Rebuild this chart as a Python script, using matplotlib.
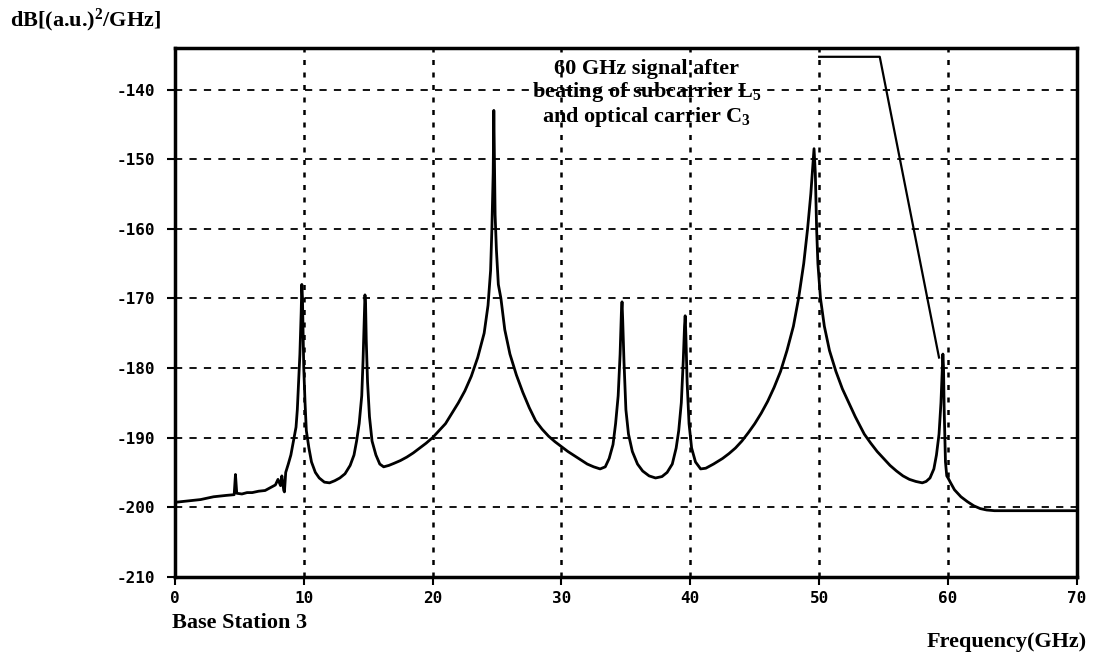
import matplotlib
matplotlib.use("Agg")
import matplotlib.pyplot as plt

plt.rcParams['mathtext.fontset'] = 'custom'
plt.rcParams['mathtext.rm'] = 'Liberation Serif:bold'
plt.rcParams['mathtext.it'] = 'Liberation Serif:bold'
plt.rcParams['mathtext.bf'] = 'Liberation Serif:bold'

# measured spectrum at base station 3 (GHz, dB)
freq = [0, 0.5, 1, 1.5, 2, 2.5, 3, 3.5, 4, 4.6, 4.7, 4.8, 5.2, 5.6, 6, 6.5, 7, 7.4, 7.8,
        8.0, 8.2, 8.3, 8.45, 8.5, 8.6, 8.8, 9.0, 9.2, 9.4, 9.5, 9.6, 9.7, 9.8, 9.85, 9.9, 9.95,
        10.0, 10.1, 10.2, 10.4, 10.6, 10.9, 11.2, 11.6, 12.0, 12.4, 12.8, 13.2, 13.6, 13.9,
        14.1, 14.3, 14.5, 14.6, 14.7, 14.75, 14.8, 14.85, 14.95, 15.1, 15.3, 15.6, 15.9, 16.2,
        16.6, 17, 17.5, 18, 18.5, 19, 19.5, 20, 20.5, 21, 21.5, 22, 22.5, 23, 23.5, 24, 24.3,
        24.5, 24.6, 24.7, 24.75, 24.8, 24.85, 24.95, 25.1, 25.3, 25.6, 26, 26.5, 27, 27.5, 28,
        28.5, 29, 29.5, 30, 30.5, 31, 31.5, 32, 32.5, 33, 33.4, 33.7, 34.0, 34.2, 34.4, 34.55,
        34.65, 34.7, 34.75, 34.85, 35.0, 35.2, 35.5, 35.9, 36.3, 36.8, 37.3, 37.8, 38.2, 38.6,
        38.9, 39.1, 39.3, 39.45, 39.55, 39.6, 39.65, 39.75, 39.9, 40.1, 40.4, 40.8, 41.2, 41.8,
        42.5, 43, 43.5, 44, 44.5, 45, 45.5, 46, 46.5, 47, 47.5, 48, 48.4, 48.8, 49.1, 49.35,
        49.5, 49.6, 49.7, 49.8, 49.9, 50.1, 50.4, 50.8, 51.3, 51.8, 52.3, 52.8, 53.5, 54, 54.5,
        55, 55.5, 56, 56.5, 57, 57.5, 58, 58.3, 58.6, 58.9, 59.1, 59.3, 59.45, 59.55, 59.6,
        59.65, 59.7, 59.8, 59.9, 60.0, 60.2, 60.5, 61, 61.5, 62, 62.5, 63, 63.6, 70]
level = [-199.3, -199.2, -199.1, -199.0, -198.9, -198.7, -198.5, -198.4, -198.3, -198.2, -195.3,
         -198.0, -198.1, -197.9, -197.9, -197.7, -197.6, -197.2, -196.8,
         -196.0, -196.9, -195.5, -197.6, -197.8, -195.0, -193.8, -192.5, -190.5, -188.5, -186,
         -182, -178, -172, -168, -170, -175,
         -180, -185, -189, -191.5, -193.5, -195, -195.8, -196.4, -196.5, -196.2, -195.8, -195.2,
         -194.0, -192.5,
         -190.5, -188, -184, -179, -173, -169.5, -171, -176, -182, -187, -190.5, -192.5, -193.8,
         -194.2,
         -194.0, -193.7, -193.3, -192.8, -192.2, -191.5, -190.8, -190.0, -189.0, -188.0, -186.5,
         -185.0, -183.3, -181.2, -178.5, -175, -171,
         -166, -160, -152, -143, -150, -158, -163, -168, -170, -174.5, -178, -181, -183.5, -185.7,
         -187.6,
         -188.8, -189.8, -190.6, -191.3, -192, -192.6, -193.2, -193.8, -194.2, -194.5, -194.2,
         -193.0, -191, -188, -184, -178,
         -172, -170.5, -173, -179, -186, -189.5, -192, -193.8, -194.8, -195.5, -195.8, -195.6,
         -195, -193.8,
         -191.5, -189, -185, -179, -174, -172.5, -175, -182, -188, -191.5, -193.5, -194.5,
         -194.4, -193.8,
         -193, -192.3, -191.5, -190.5, -189.3, -188, -186.5, -184.8, -182.8, -180.5, -177.5, -174,
         -170, -165, -160, -155,
         -151, -148.5, -152, -160, -165, -170, -174, -177.5, -180.5, -183, -185, -187, -189.5,
         -190.8, -192,
         -193, -194, -194.8, -195.5, -196, -196.3, -196.5, -196.3, -195.8, -194.5, -192.5, -189.5,
         -185, -180.5, -178,
         -180, -186, -193.5, -195.5, -195.8, -196.5, -197.5, -198.5, -199.2, -199.8, -200.2,
         -200.4, -200.5, -200.5]

# bandpass filter outline around the 60 GHz signal
filt_freq = [50.0, 54.7, 59.3]
filt_level = [-135.3, -135.3, -178.5]

x_ticks = [0, 10, 20, 30, 40, 50, 60, 70]
y_ticks = [-210, -200, -190, -180, -170, -160, -150, -140]
y_labels = ['-210', '-200', '-190', '-180', '-170', '-160', '-150', '-140']

fig = plt.figure(figsize=(11, 6.54), dpi=100)
ax = fig.add_axes([0.159, 0.118, 0.820, 0.809])

ax.plot(freq, level, color='black', lw=2.0)
ax.plot(filt_freq, filt_level, color='black', lw=1.6)

ax.set_xlim(0, 70)
ax.set_ylim(-210, -134)
ax.set_xticks(x_ticks)
ax.set_xticklabels([str(v) for v in x_ticks])
ax.set_yticks(y_ticks)
ax.set_yticklabels(y_labels)
for lab in ax.get_xticklabels() + ax.get_yticklabels():
    lab.set_fontfamily('DejaVu Sans Mono')
    lab.set_fontweight('bold')
    lab.set_fontsize(11.5)
ax.tick_params(axis='both', direction='out', length=6, width=1.5, color='black')
ax.tick_params(axis='y', pad=8)
ax.tick_params(axis='x', pad=4)

ax.grid(axis='y', color='black', linestyle=(0, (4, 4)), lw=1.3)
ax.grid(axis='x', color='black', linestyle=(0, (2, 3)), lw=1.8)

for sp in ax.spines.values():
    sp.set_linewidth(2.5)

serif = dict(family='Liberation Serif', fontweight='bold')
ax.text(36.6, -140.6, "60 GHz signal after\nbeating of subcarrier L$_5$\nand optical carrier C$_3$",
        ha='center', va='center', fontsize=16, linespacing=1.05, **serif)

fig.text(0.009, 0.969, "dB[(a.u.)$^2$/GHz]", ha='left', va='center', fontsize=16, **serif)
fig.text(0.156, 0.047, "Base Station 3", ha='left', va='center', fontsize=16, **serif)
fig.text(0.988, 0.018, "Frequency(GHz)", ha='right', va='center', fontsize=16, **serif)

fig.savefig('out.png', dpi=100)
